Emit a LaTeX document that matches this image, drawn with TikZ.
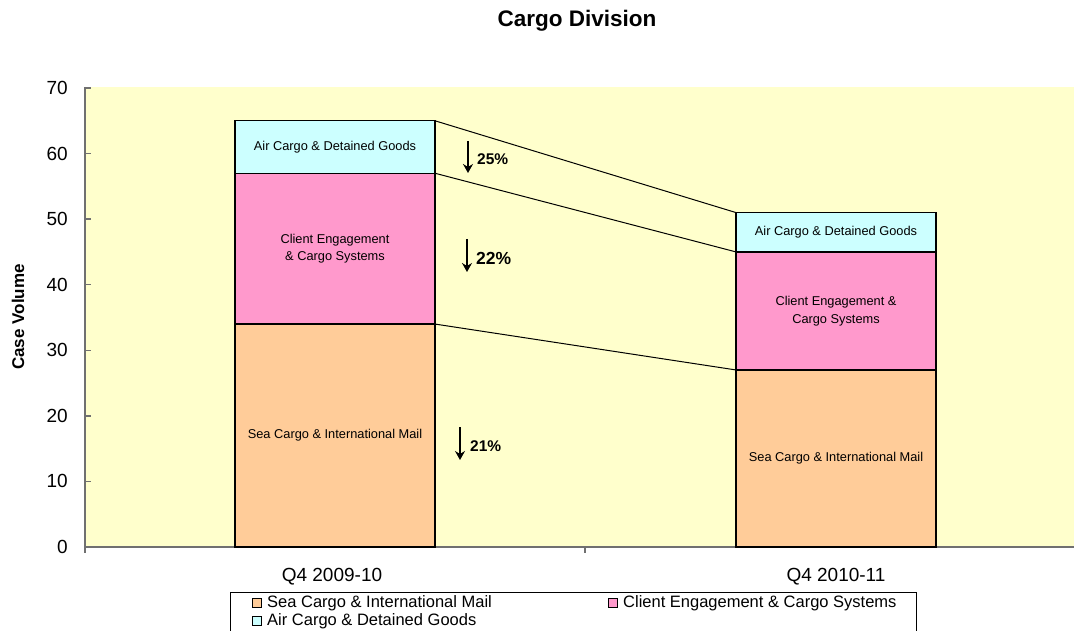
\documentclass[tikz,border=0pt]{standalone}
\usepackage{fontspec}
\setmainfont{Liberation Sans}
\usetikzlibrary{arrows.meta}
\definecolor{plotbg}{HTML}{FFFFCC}
\definecolor{aircol}{HTML}{CCFFFF}
\definecolor{clientcol}{HTML}{FF99CC}
\definecolor{seacol}{HTML}{FFCC99}
\definecolor{axiscol}{HTML}{707070}
\tikzset{
  seg/.style={draw=black, line width=1.2pt, inner sep=0pt, outer sep=0pt, minimum width=200pt, anchor=south west, align=center, font=\fontsize{12.8}{17.5}\selectfont},
  ticklab/.style={anchor=east, inner sep=0pt, font=\fontsize{19}{21}\selectfont},
  catlab/.style={inner sep=0pt, font=\fontsize{19}{21}\selectfont},
  leglab/.style={anchor=west, inner sep=0pt, font=\fontsize{16.5}{18}\selectfont},
  legsq/.style={draw=black, line width=0.9pt, inner sep=0pt, minimum size=9pt},
  pct/.style={anchor=west, inner sep=0pt, font=\bfseries\fontsize{15.5}{17}\selectfont},
  downarrow/.style={line width=1.5pt, -{Stealth[length=9pt,width=10pt,inset=3pt]}},
  link/.style={draw=black, line width=1pt},
}
\begin{document}
\begin{tikzpicture}[x=1pt,y=-1pt]
\useasboundingbox (0,0) rectangle (1074,631);
% plot background
\fill[plotbg] (85,87) rectangle (1074,547);
% title
\node[anchor=base, inner sep=0pt, font=\bfseries\fontsize{22.5}{25}\selectfont] (title) at (577,27) {Cargo Division};
% y axis title
\node[rotate=90, inner sep=0pt, font=\bfseries\fontsize{17}{19}\selectfont] (ytitle) at (18,317) {Case Volume};
% axes
\draw[axiscol, line width=1.4pt] (85,87) -- (85,553);
\draw[axiscol, line width=1.4pt] (85,547) -- (1074,547);
\draw[axiscol, line width=1.4pt] (585,547) -- (585,553);
\foreach \v in {0,10,...,70}{
  \pgfmathsetmacro{\yy}{547-\v*6.5571}
  \draw[axiscol, line width=1.4pt] (85,\yy) -- (91,\yy);
  \node[ticklab] (yl\v) at (68,\yy) {\v};
}
% bar 1
\node[seg, fill=seacol, minimum height=222.94pt] (sea1) at (235,547) {Sea Cargo \& International Mail};
\node[seg, fill=clientcol, minimum height=150.81pt] (client1) at (sea1.north west) {Client Engagement\\\& Cargo Systems};
\node[seg, fill=aircol, minimum height=52.46pt] (air1) at (client1.north west) {Air Cargo \& Detained Goods};
% bar 2
\node[seg, fill=seacol, minimum height=177.04pt] (sea2) at (736,547) {Sea Cargo \& International Mail};
\node[seg, fill=clientcol, minimum height=118.03pt] (client2) at (sea2.north west) {Client Engagement \&\\Cargo Systems};
\node[seg, fill=aircol, minimum height=39.34pt] (air2) at (client2.north west) {Air Cargo \& Detained Goods};
% connectors
\draw[link] (air1.north east) -- (air2.north west);
\draw[link] (client1.north east) -- (client2.north west);
\draw[link] (sea1.north east) -- (sea2.north west);
% percentage arrows
\coordinate (a25t) at (468,141); \coordinate (a25b) at (468,173);
\draw[downarrow] (a25t) -- (a25b);
\node[pct] (p25) at (477,159) {25\%};
\coordinate (a22t) at (467,239); \coordinate (a22b) at (467,272);
\draw[downarrow] (a22t) -- (a22b);
\node[pct, font=\bfseries\fontsize{17.5}{19}\selectfont] (p22) at (476,258) {22\%};
\coordinate (a21t) at (460,427); \coordinate (a21b) at (460,460);
\draw[downarrow] (a21t) -- (a21b);
\node[pct] (p21) at (470,446) {21\%};
% category labels
\node[catlab] (c1) at (332,577) {Q4 2009-10};
\node[catlab] (c2) at (836,577) {Q4 2010-11};
% legend
\draw[black, line width=1pt] (230,631) -- (230,592) -- (916,592) -- (916,631);
\node[legsq, fill=seacol] (lsq1) at (257,603) {};
\node[leglab] (ll1) at (267,603) {Sea Cargo \& International Mail};
\node[legsq, fill=clientcol] (lsq2) at (613,603) {};
\node[leglab] (ll2) at (623,603) {Client Engagement \& Cargo Systems};
\node[legsq, fill=aircol] (lsq3) at (257,621) {};
\node[leglab] (ll3) at (267,621) {Air Cargo \& Detained Goods};
\end{tikzpicture}
\end{document}
